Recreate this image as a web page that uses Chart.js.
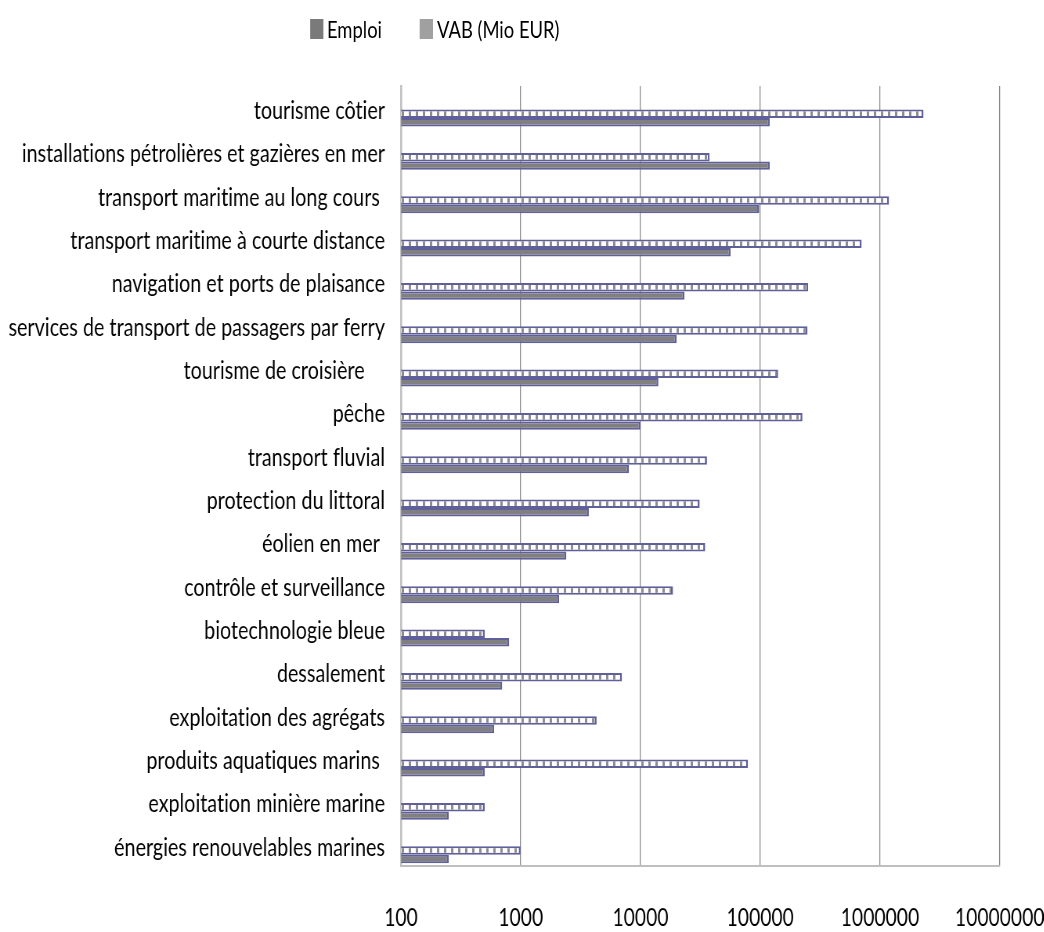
<!DOCTYPE html>
<html lang="fr">
<head>
<meta charset="utf-8">
<title>Économie bleue : emploi et VAB par secteur</title>
<script src="https://cdn.jsdelivr.net/npm/chart.js@4.4.1/dist/chart.umd.min.js"></script>
<style>
  html, body { margin: 0; background: #fff; overflow: hidden; }
  .wrap { position: relative; height: 932px; transform-origin: 0 0; }
  .leg { position: absolute; top: 17px; display: flex; align-items: center;
         font: 23.5px Lato, "Liberation Sans", sans-serif; color: #000; line-height: 24px; }
  .sw { display: inline-block; height: 20px; }
</style>
</head>
<body>
<div class="wrap" id="wrap">
  <div class="leg" id="legEmploi"><span class="sw" style="background:#7a7a7a"></span>Emploi</div>
  <div class="leg" id="legVab"><span class="sw" style="background:#a0a0a0"></span>VAB (Mio EUR)</div>
  <canvas id="chart" height="932"></canvas>
</div>
<script>
// ── Données (échelle log) ──────────────────────────────────────
const categories = [
  "tourisme côtier",
  "installations pétrolières et gazières en mer",
  "transport maritime au long cours ",
  "transport maritime à courte distance",
  "navigation et ports de plaisance",
  "services de transport de passagers par ferry",
  "tourisme de croisière    ",
  "pêche",
  "transport fluvial",
  "protection du littoral",
  "éolien en mer ",
  "contrôle et surveillance",
  "biotechnologie bleue",
  "dessalement",
  "exploitation des agrégats",
  "produits aquatiques marins ",
  "exploitation minière marine",
  "énergies renouvelables marines",
];
const vab    = [2310000, 37800, 1190000, 703000, 251000, 248000, 141000, 225000, 35900, 31200, 34700, 18700, 500, 7000, 4300, 79000, 500, 1000];
const emploi = [120000, 120000, 98000, 56600, 23300, 20000, 14100, 10000, 8000, 3700, 2400, 2090, 800, 700, 600, 500, 250, 250];
const xTicks = [100, 1000, 10000, 100000, 1000000, 10000000];

// ── Style ──────────────────────────────────────────────────────
// Le texte d'origine est étroit : on dessine plus large puis on
// comprime horizontalement l'ensemble (SX).
const SX     = 0.783;
const FONT   = 'Lato, "Liberation Sans", sans-serif';
const BORDER = "#5f5f9b";
const W      = Math.round(1044 / SX);

const wrap   = document.getElementById("wrap");
const canvas = document.getElementById("chart");
wrap.style.width     = W + "px";
wrap.style.transform = `scaleX(${SX})`;
canvas.width = W;

// légende HTML (positions en px écran, converties)
const px = v => (v / SX) + "px";
document.getElementById("legEmploi").style.left = px(310);
document.getElementById("legVab").style.left    = px(420);
document.querySelectorAll(".sw").forEach(el => { el.style.width = px(13); el.style.marginRight = px(4); });

const ctx = canvas.getContext("2d");

/** motif "pointillé" : blocs blancs séparés par des traits gris */
function hatch() {
  const c = document.createElement("canvas");
  c.width = 9; c.height = 1;
  const g = c.getContext("2d");
  g.fillStyle = "#8c8c8c"; g.fillRect(0, 0, 9, 1);
  g.fillStyle = "#ffffff"; g.fillRect(3, 0, 6, 1);
  return ctx.createPattern(c, "repeat");
}

// pas de ligature "ti" de Lato
const noLigatures = {
  id: "noLigatures",
  beforeDraw: chart => { chart.ctx.letterSpacing = "0.1px"; },
};

const barOpts = {
  borderColor: BORDER,
  borderWidth: { top: 2, bottom: 2, left: 2 / SX, right: 2 / SX },
  categoryPercentage: 0.39, barPercentage: 1,
};

new Chart(ctx, {
  type: "bar",
  data: {
    datasets: [
      { label: "VAB (Mio EUR)", data: vab.map((v, i) => ({ x: v, y: i })), backgroundColor: hatch(), ...barOpts },
      { label: "Emploi",        data: emploi.map((v, i) => ({ x: v, y: i })), backgroundColor: "#808080", ...barOpts },
    ],
  },
  options: {
    indexAxis: "y",
    responsive: false,
    animation: false,
    layout: { padding: { top: 86, right: 0, left: 0, bottom: 0 } },
    plugins: { legend: { display: false }, tooltip: { enabled: false } },
    scales: {
      x: {
        type: "logarithmic", min: 100, max: 1e7,
        afterBuildTicks: s => { s.ticks = xTicks.map(v => ({ value: v })); },
        afterFit: s => { s.height = 66; s.paddingLeft = 0; s.paddingRight = 44 / SX; },
        grid: { color: "#878787", lineWidth: 1 / SX, drawTicks: false },
        border: { color: "#bfbfbf", width: 2 },
        ticks: { color: "#000", font: { family: FONT, size: 24.5 }, padding: 37, maxRotation: 0, autoSkip: false, callback: v => String(v) },
      },
      y: {
        type: "linear", reverse: true, min: -0.74, max: 17.26, offset: false,
        afterBuildTicks: s => { s.ticks = categories.map((_, i) => ({ value: i })); },
        afterFit: s => { s.width = 401 / SX; },
        grid: { display: false, drawTicks: false },
        border: { color: "#bfbfbf", width: 2 / SX },
        ticks: { color: "#000", font: { family: FONT, size: 25 }, padding: 16 / SX, labelOffset: -7, autoSkip: false, callback: v => categories[v] },
      },
    },
  },
  plugins: [noLigatures],
});
</script>
</body>
</html>
